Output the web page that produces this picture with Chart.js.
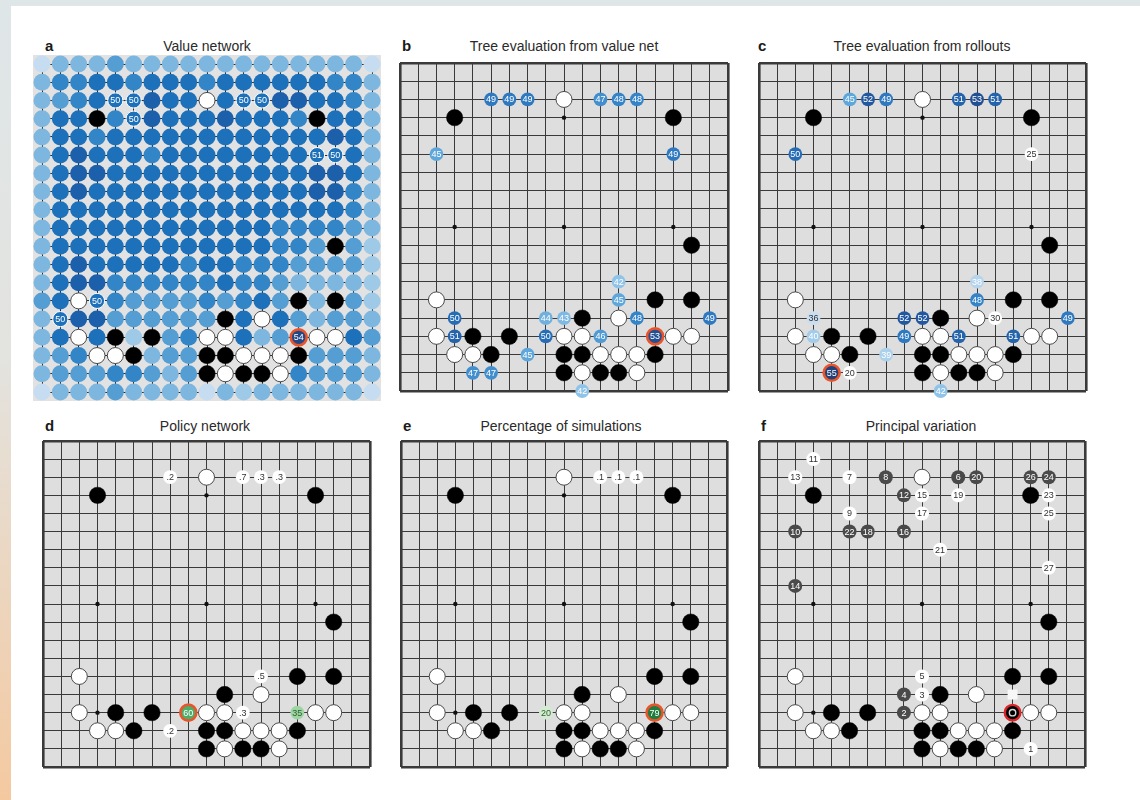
<!DOCTYPE html>
<html><head><meta charset="utf-8">
<script src="https://cdn.jsdelivr.net/npm/chart.js@4.4.1/dist/chart.umd.min.js"></script>
<style>
html,body{margin:0;padding:0;}
body{width:1140px;height:800px;position:relative;overflow:hidden;
 background:linear-gradient(to bottom,#dfe6e8 0%,#e3e3df 45%,#f4c9a0 100%);
 font-family:"Liberation Sans",Arial,Helvetica,sans-serif;}
#card{position:absolute;left:11px;top:6px;right:0;bottom:0;background:#fff;}
canvas{position:absolute;}
.lt{position:absolute;font-weight:bold;font-size:15px;line-height:1;color:#1a1a1a;}
.tt{position:absolute;font-size:14px;line-height:1;color:#2a2a2a;transform:translateX(-50%);white-space:nowrap;}
</style></head>
<body>
<div id="card"></div>
<div class="lt" style="left:45px;top:38px">a</div>
<div class="tt" style="left:207px;top:39px">Value network</div>
<div class="lt" style="left:402px;top:38px">b</div>
<div class="tt" style="left:564px;top:39px">Tree evaluation from value net</div>
<div class="lt" style="left:758px;top:38px">c</div>
<div class="tt" style="left:922px;top:39px">Tree evaluation from rollouts</div>
<div class="lt" style="left:45px;top:418px">d</div>
<div class="tt" style="left:205px;top:419px">Policy network</div>
<div class="lt" style="left:403px;top:418px">e</div>
<div class="tt" style="left:561px;top:419px">Percentage of simulations</div>
<div class="lt" style="left:761px;top:418px">f</div>
<div class="tt" style="left:921px;top:419px">Principal variation</div>
<script>
// ---------------- DATA (column, row on a 19x19 board, row 0 = top) ----------------
const blackStones = [[3,3],[15,3],[16,10],[14,13],[16,13],[10,14],[4,15],[6,15],[5,16],[9,16],[10,16],[14,16],[9,17],[11,17],[12,17]];
const whiteStones = [[9,2],[2,13],[12,14],[2,15],[9,15],[10,15],[15,15],[16,15],[3,16],[4,16],[11,16],[12,16],[13,16],[10,17],[13,17]];
const starPoints  = [[3,3],[9,3],[15,3],[3,9],[9,9],[15,9],[3,15],[9,15],[15,15]];

// a: value network shade level per intersection (1 = palest ... 7 = darkest)
const valueShadeRows = [
 "1333433333333333331",
 "3556656665666666553",
 "3456667666666776653",
 "3666567666766656663",
 "3665666666666666763",
 "3676665666666667663",
 "3677666666666667763",
 "3676666666666667753",
 "3666666666666666653",
 "3666666666666555543",
 "3666666666666554442",
 "3676666656655544442",
 "3677555555655433332",
 "4666544445456443342",
 "3677444444464643443",
 "3666424454463474464",
 "3454443444444444443",
 "3444554344444454443",
 "1333433331323333331"
];
const valueNetLabels = [[4,2,50],[5,2,50],[5,3,50],[11,2,50],[12,2,50],[15,5,51],[16,5,50],[3,13,50],[1,14,50],[14,15,54]];
const valueNetChosen = [14,15];

// b: tree evaluation from value net (%)
const treeValueNet = [[5,2,49],[6,2,49],[7,2,49],[11,2,47],[12,2,48],[13,2,48],[2,5,45],[15,5,49],[12,12,42],[12,13,45],
 [3,14,50],[8,14,44],[9,14,43],[13,14,48],[17,14,49],[3,15,51],[8,15,50],[11,15,46],[14,15,53],[7,16,45],[4,17,47],[5,17,47],[10,18,42]];
const treeValueNetChosen = [14,15];

// c: tree evaluation from rollouts (%)
const treeRollouts = [[5,2,45],[6,2,52],[7,2,49],[11,2,51],[12,2,53],[13,2,51],[2,5,50],[15,5,25],[12,12,38],[12,13,48],
 [3,14,36],[8,14,52],[9,14,52],[13,14,30],[17,14,49],[3,15,40],[8,15,49],[11,15,51],[14,15,51],[7,16,39],[4,17,55],[5,17,20],[10,18,42]];
const treeRolloutsChosen = [4,17];

// d: policy network (%)
const policyNet = [[7,2,0.2],[11,2,0.7],[12,2,0.3],[13,2,0.3],[12,13,0.5],[8,15,60],[11,15,0.3],[14,15,35],[7,16,0.2]];
const policyNetChosen = [8,15];

// e: percentage of simulations
const simPercent = [[11,2,0.1],[12,2,0.1],[13,2,0.1],[8,15,20],[14,15,79]];
const simPercentChosen = [14,15];

// f: principal variation (move order)
const principalVariation = [[15,17,1],[8,15,2],[9,14,3],[8,14,4],[9,13,5],[11,2,6],[5,2,7],[7,2,8],[5,4,9],[2,5,10],
 [3,1,11],[8,3,12],[2,2,13],[2,8,14],[9,3,15],[8,5,16],[9,4,17],[6,5,18],[11,3,19],[12,2,20],[10,6,21],[5,5,22],
 [16,3,23],[16,2,24],[16,4,25],[15,2,26],[16,7,27]];
const pvPlayedMove = [14,15];
const pvMarker = [14,14];

// ---------------- STYLE ----------------
const FONT = '"Liberation Sans", Arial, Helvetica, sans-serif';
const shadeColors = {1:'#c6dcf0',2:'#9ecae7',3:'#7db7df',4:'#559ed4',5:'#3286c7',6:'#1d71ba',7:'#1c5fab'};
const blueStops = [[30,'#ffffff'],[36,'#c9def0'],[42,'#8fc3e7'],[45,'#5fa6da'],[48,'#3584c8'],[50,'#276db5'],[52,'#2358a0'],[55,'#22407a']];
const greenStops = [[0,'#ffffff'],[1,'#ffffff'],[20,'#d3ebd1'],[35,'#9cd4a2'],[60,'#4cae6a'],[79,'#1f7d40']];
const RED = '#e9552a';

function hex(c){return [1,3,5].map(i=>parseInt(c.substr(i,2),16));}
function interp(stops,v){
  if(v<=stops[0][0]) return stops[0][1];
  for(let i=1;i<stops.length;i++){
    if(v<=stops[i][0]){
      const [v0,c0]=stops[i-1],[v1,c1]=stops[i];
      const t=(v-v0)/(v1-v0), a=hex(c0), b=hex(c1);
      return 'rgb('+a.map((x,k)=>Math.round(x+(b[k]-x)*t)).join(',')+')';
    }
  }
  return stops[stops.length-1][1];
}
function fmt(v){ return v<1 ? '.'+String(v).split('.')[1] : String(v); }
function same(p,q){ return p[0]===q[0]&&p[1]===q[1]; }

const boardBg = {
  id:'boardBg',
  beforeDraw(chart,args,o){
    const a=chart.chartArea,c=chart.ctx;
    c.save(); c.fillStyle=o.color;
    c.fillRect(a.left-o.ext,a.top-o.ext,a.right-a.left+2*o.ext,a.bottom-a.top+2*o.ext);
    c.restore();
  }
};
const txt = {
  id:'txt',
  afterDatasetsDraw(chart){
    const c=chart.ctx;
    chart.data.datasets.forEach((ds,i)=>{
      const meta=chart.getDatasetMeta(i);
      meta.data.forEach((el,j)=>{
        const r=ds.data[j];
        if(r.t===undefined) return;
        c.save();
        c.font=(ds.labelFont||'9px')+' '+FONT;
        c.fillStyle=r.tc; c.textAlign='center'; c.textBaseline='middle';
        c.fillText(r.t,el.x,el.y+0.5);
        c.restore();
      });
    });
  }
};

function gridScale(reverse,edgeW,gridColor){
  return {type:'linear',min:0,max:18,reverse,display:true,
    ticks:{display:false,stepSize:1},
    grid:{drawTicks:false,color:gridColor||'#3a3a3a',
      lineWidth:(c)=>(c.tick&&(c.tick.value===0||c.tick.value===18))?edgeW:1},
    border:{display:false}};
}
function ds(list,o,extra){
  return Object.assign({data:list.map(p=>Object.assign({x:p[0],y:p[1]},extra?extra(p):{})),
    clip:false,pointStyle:'circle',showLine:false,pointHoverRadius:0},o);
}
function stoneSets(){
  return [
    ds(starPoints,{pointRadius:2.2,backgroundColor:'#111',borderWidth:0}),
    ds(blackStones,{pointRadius:8.2,backgroundColor:'#000',borderColor:'#000',borderWidth:0.5}),
    ds(whiteStones,{pointRadius:8,backgroundColor:'#fff',borderColor:'#4a4a4a',borderWidth:1})
  ];
}
function makeBoard(box,cfg){
  const pad=12;
  // later datasets are painted on top
  cfg.datasets.forEach((d,i)=>{ d.order = -i; });
  const cv=document.createElement('canvas');
  cv.width=box.w+2*pad; cv.height=box.h+2*pad;
  cv.style.left=(box.x-pad)+'px'; cv.style.top=(box.y-pad)+'px';
  cv.style.width=cv.width+'px'; cv.style.height=cv.height+'px';
  document.body.appendChild(cv);
  return new Chart(cv,{
    type:'scatter',
    data:{datasets:cfg.datasets},
    options:{responsive:false,animation:false,events:[],devicePixelRatio:1,
      layout:{padding:pad,autoPadding:false},
      scales:{x:gridScale(false,cfg.edge,cfg.gridColor),y:gridScale(true,cfg.edge,cfg.gridColor)},
      plugins:{legend:{display:false},tooltip:{enabled:false},title:{display:false},
        boardBg:{color:cfg.bg||'#dedede',ext:cfg.ext||0}}},
    plugins:[boardBg,txt]
  });
}
function labelSet(list,chosen,colorFn,textFn,textColFn,opts){
  return ds(list,Object.assign({
    pointRadius:list.map(p=>same(p,chosen)?8:6.9),
    backgroundColor:list.map(p=>colorFn(p[2])),
    borderColor:list.map(p=>same(p,chosen)?RED:'rgba(0,0,0,0)'),
    borderWidth:list.map(p=>same(p,chosen)?2.6:0),
    labelFont:'9px'},opts||{}),p=>({t:textFn(p[2]),tc:textColFn(p[2])}));
}

// ---------------- a: value network ----------------
const occupied=blackStones.concat(whiteStones);
const shadeCells=[];
valueShadeRows.forEach((row,r)=>{ for(let c=0;c<19;c++){
  const p=[c,r,+row[c]];
  if(!occupied.some(q=>same(q,p)) && !valueNetLabels.some(q=>same(q,p))) shadeCells.push(p);
}});
makeBoard({x:42,y:64,w:330,h:328},{bg:'#e2e2e2',ext:9,edge:1,gridColor:'#2a2a2a',datasets:[
  ds(shadeCells,{pointRadius:8.5,backgroundColor:shadeCells.map(p=>shadeColors[p[2]]),borderWidth:0}),
  ds(blackStones,{pointRadius:8.2,backgroundColor:'#000',borderColor:'#000',borderWidth:0.5}),
  ds(whiteStones,{pointRadius:8,backgroundColor:'#fff',borderColor:'#4a4a4a',borderWidth:1}),
  ds(valueNetLabels,{
    pointRadius:valueNetLabels.map(p=>same(p,valueNetChosen)?8:7.6),
    backgroundColor:valueNetLabels.map(p=>same(p,valueNetChosen)?interp(blueStops,p[2]):shadeColors[6]),
    borderColor:valueNetLabels.map(p=>same(p,valueNetChosen)?RED:'#ffffff'),
    borderWidth:valueNetLabels.map(p=>same(p,valueNetChosen)?2.6:1),labelFont:'9px'},
    p=>({t:String(p[2]),tc:'#ffffff'}))
]});

// ---------------- b, c: tree evaluations ----------------
const blueText=v=>v>=37?'#ffffff':'#333333';
makeBoard({x:400,y:63,w:328,h:328},{edge:2.6,datasets:stoneSets().concat([
  labelSet(treeValueNet,treeValueNetChosen,v=>interp(blueStops,v),String,blueText)])});
makeBoard({x:759,y:63,w:327,h:328},{edge:2.6,datasets:stoneSets().concat([
  labelSet(treeRollouts,treeRolloutsChosen,v=>interp(blueStops,v),String,blueText)])});

// ---------------- d, e: policy network & simulations ----------------
const greenText=v=>v>=50?'#ffffff':(v>=10?'#2f5f2f':'#333333');
makeBoard({x:43,y:441,w:327,h:326},{edge:2.6,datasets:stoneSets().concat([
  labelSet(policyNet,policyNetChosen,v=>interp(greenStops,v),fmt,greenText)])});
makeBoard({x:401,y:441,w:326,h:326},{edge:2.6,datasets:stoneSets().concat([
  labelSet(simPercent,simPercentChosen,v=>interp(greenStops,v),fmt,greenText)])});

// ---------------- f: principal variation ----------------
makeBoard({x:759,y:441,w:326,h:326},{edge:2.6,datasets:stoneSets().concat([
  ds([pvMarker],{pointStyle:'rect',pointRadius:7,backgroundColor:'#f7f7f7',borderWidth:0}),
  ds([pvPlayedMove],{pointRadius:7.8,backgroundColor:'#000',borderColor:'#d8262a',borderWidth:2.4}),
  ds([pvPlayedMove],{pointRadius:3.2,backgroundColor:'rgba(0,0,0,0)',borderColor:'#d8d8d8',borderWidth:1.4}),
  ds(principalVariation,{pointRadius:7,
    backgroundColor:principalVariation.map(p=>p[2]%2===0?'#4a4a4a':'#ffffff'),borderWidth:0,labelFont:'9px'},
    p=>({t:String(p[2]),tc:p[2]%2===0?'#ffffff':'#333333'}))
])});
</script>
</body></html>
